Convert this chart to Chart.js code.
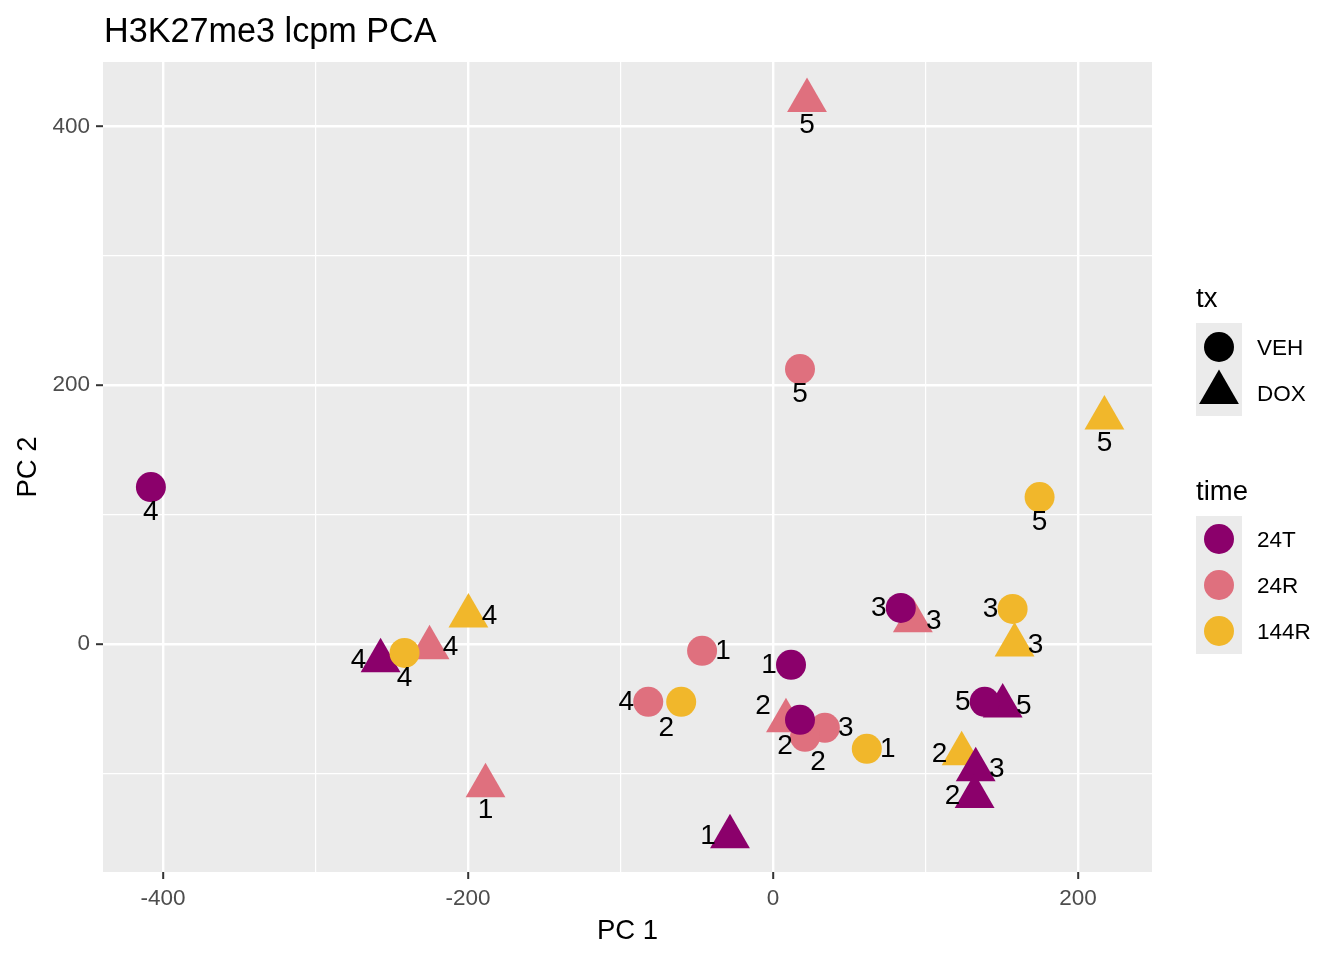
<!DOCTYPE html>
<html>
<head>
<meta charset="utf-8">
<title>H3K27me3 lcpm PCA</title>
<script src="https://cdn.jsdelivr.net/npm/chart.js@4.4.1/dist/chart.umd.min.js"></script>
<style>
  html, body { margin: 0; padding: 0; background: #fff; }
  #wrap { width: 1344px; height: 960px; }
</style>
</head>
<body>
<div id="wrap"><canvas id="pca" width="1344" height="960"></canvas></div>
<script>
// sample coordinates
const pc1 = [-407.9, 22.3, 17.7, 217.3, 174.8, 83.8, 91.7, 157.1, 158.4, -199.7,
             -225.2, -257.3, -241.6, -46.5, 11.8, -81.8, -60.2, 138.8, 150.6, 8.5,
             17.7, 34.0, 21.0, 61.5, 123.7, 132.9, 132.2, -188.5, -28.2];
const pc2 = [121.2, 420.0, 212.4, 174.5, 113.5, 27.8, 17.8, 27.0, -0.8, 21.6,
             -3.0, -13.0, -7.0, -5.4, -16.2, -44.8, -44.8, -44.8, -48.0, -59.5,
             -58.7, -64.9, -71.8, -81.1, -85.0, -97.3, -118.0, -109.6, -149.0];
const time = ['24T', '24R', '24R', '144R', '144R', '24T', '24R', '144R', '144R', '144R',
              '24R', '24T', '144R', '24R', '24T', '24R', '144R', '24T', '24T', '24R',
              '24T', '24R', '24R', '144R', '144R', '24T', '24T', '24R', '24T'];
const tx = ['VEH', 'DOX', 'VEH', 'DOX', 'VEH', 'VEH', 'DOX', 'VEH', 'DOX', 'DOX',
            'DOX', 'DOX', 'VEH', 'VEH', 'VEH', 'VEH', 'VEH', 'VEH', 'DOX', 'DOX',
            'VEH', 'VEH', 'VEH', 'VEH', 'DOX', 'DOX', 'DOX', 'DOX', 'DOX'];
const rep = ['4', '5', '5', '5', '5', '3', '3', '3', '3', '4',
             '4', '4', '4', '1', '1', '4', '2', '5', '5', '2',
             '2', '3', '2', '1', '2', '3', '2', '1', '1'];
// which side of the point the repelled label sits on
const labelSide = ['b', 'b', 'b', 'b', 'b', 'l', 'r', 'l', 'r', 'r',
                   'r', 'l', 'b', 'r', 'l', 'l', 'bl', 'l', 'r', 'ul',
                   'bl', 'r', 'br', 'r', 'l', 'r', 'l', 'b', 'l'];

const timeLevels = ['24T', '24R', '144R'];
const txLevels = ['VEH', 'DOX'];
const xBreaks = [-400, -200, 0, 200];
const xMinor = [-300, -100, 100];
const yBreaks = [0, 200, 400];
const yMinor = [-100, 100, 300];

const FONT = "'Liberation Sans', Arial, sans-serif";
const timeColors = { '24T': '#8B006B', '24R': '#DF707E', '144R': '#F1B72B' };
const txShapes = { VEH: 'circle', DOX: 'triangle' };
const txRadius = { VEH: 15, DOX: 23 };
const sideOffset = {
  b: [0, 25], l: [-22, 0], r: [21, 0], bl: [-15, 26], br: [13, 25], ul: [-23, -15]
};

// triangles go underneath, circles on top
const drawOrder = [['144R', 'DOX'], ['24R', 'DOX'], ['24T', 'DOX'],
                   ['24R', 'VEH'], ['144R', 'VEH'], ['24T', 'VEH']];

const datasets = drawOrder.map(([t, s], i) => {
  const pts = [];
  pc1.forEach((x, k) => {
    if (time[k] === t && tx[k] === s) pts.push({ x: x, y: pc2[k] });
  });
  return {
    label: t + ' ' + s,
    data: pts,
    order: drawOrder.length - i,
    pointStyle: txShapes[s],
    pointRadius: txRadius[s],
    pointBackgroundColor: timeColors[t],
    pointBorderWidth: 0,
    showLine: false
  };
});

const isMajor = (list, v) => list.includes(v);

const decor = {
  id: 'decor',
  beforeDraw(chart) {
    const { ctx, chartArea: a } = chart;
    ctx.save();
    ctx.fillStyle = '#EBEBEB';
    ctx.fillRect(a.left, a.top, a.right - a.left, a.bottom - a.top);
    ctx.restore();
  },
  afterDatasetsDraw(chart) {
    const { ctx, scales } = chart;
    ctx.save();
    ctx.fillStyle = '#000';
    ctx.font = '28px ' + FONT;
    ctx.textAlign = 'center';
    ctx.textBaseline = 'middle';
    pc1.forEach((x, k) => {
      const off = sideOffset[labelSide[k]];
      ctx.fillText(rep[k], scales.x.getPixelForValue(x) + off[0],
                   scales.y.getPixelForValue(pc2[k]) + off[1]);
    });
    ctx.restore();
  },
  afterDraw(chart) {
    const { ctx, chartArea: a } = chart;
    ctx.save();
    ctx.fillStyle = '#000';
    // title
    ctx.font = '34.2px ' + FONT;
    ctx.textAlign = 'left';
    ctx.textBaseline = 'alphabetic';
    ctx.fillText('H3K27me3 lcpm PCA', 104, 42);
    // axis titles
    ctx.font = '27.5px ' + FONT;
    ctx.textAlign = 'center';
    ctx.fillText('PC 1', (a.left + a.right) / 2, 939);
    ctx.save();
    ctx.translate(36, (a.top + a.bottom) / 2);
    ctx.rotate(-Math.PI / 2);
    ctx.fillText('PC 2', 0, 0);
    ctx.restore();

    // legends
    const lx = 1196, kw = 46, kx = lx + kw / 2, tx0 = 1257;
    const drawKey = (shape, r, color, y) => {
      ctx.fillStyle = color;
      Chart.helpers.drawPoint(ctx, { pointStyle: shape, radius: r, borderWidth: 0, rotation: 0 }, kx, y);
    };
    const drawText = (txt, y) => {
      ctx.fillStyle = '#000';
      ctx.font = '22.5px ' + FONT;
      ctx.textAlign = 'left';
      ctx.textBaseline = 'middle';
      ctx.fillText(txt, tx0, y);
    };
    ctx.font = '27.5px ' + FONT;
    ctx.textAlign = 'left';
    ctx.textBaseline = 'alphabetic';
    ctx.fillText('tx', lx, 307);
    ctx.fillStyle = '#EBEBEB';
    ctx.fillRect(lx, 323, kw, 93);
    const txY = [347, 392.5];
    txLevels.forEach((s, i) => {
      drawKey(txShapes[s], txRadius[s], '#000', txY[i]);
      drawText(s, txY[i] + 2);
    });

    ctx.fillStyle = '#000';
    ctx.font = '27.5px ' + FONT;
    ctx.textBaseline = 'alphabetic';
    ctx.fillText('time', lx, 500);
    ctx.fillStyle = '#EBEBEB';
    ctx.fillRect(lx, 516, kw, 138);
    timeLevels.forEach((t, i) => {
      const y = 539 + i * 46;
      drawKey('circle', 15, timeColors[t], y);
      drawText(t, y + 2);
    });
    ctx.restore();
  }
};

new Chart(document.getElementById('pca'), {
  type: 'scatter',
  data: { datasets: datasets },
  options: {
    responsive: false,
    animation: false,
    events: [],
    layout: { padding: { left: 0, top: 62, right: 192, bottom: 0 } },
    plugins: { legend: { display: false }, title: { display: false }, tooltip: { enabled: false } },
    scales: {
      x: {
        type: 'linear',
        min: -439.3,
        max: 248.5,
        afterBuildTicks: s => { s.ticks = xBreaks.concat(xMinor).sort((p, q) => p - q).map(v => ({ value: v })); },
        afterFit: s => { s.height = 88; },
        border: { display: false },
        grid: {
          color: '#FFFFFF',
          lineWidth: c => isMajor(xBreaks, c.tick.value) ? 2.4 : 1.2,
          drawTicks: true,
          tickLength: 7,
          tickWidth: 2,
          tickColor: c => isMajor(xBreaks, c.tick.value) ? '#333333' : 'rgba(0,0,0,0)'
        },
        ticks: {
          autoSkip: false,
          maxRotation: 0,
          padding: 6,
          color: '#4D4D4D',
          font: { family: FONT, size: 22.5 },
          callback: v => isMajor(xBreaks, v) ? String(v) : ''
        }
      },
      y: {
        type: 'linear',
        min: -176.3,
        max: 449.7,
        afterBuildTicks: s => { s.ticks = yBreaks.concat(yMinor).sort((p, q) => p - q).map(v => ({ value: v })); },
        afterFit: s => { s.width = 103; },
        border: { display: false },
        grid: {
          color: '#FFFFFF',
          lineWidth: c => isMajor(yBreaks, c.tick.value) ? 2.4 : 1.2,
          drawTicks: true,
          tickLength: 7,
          tickWidth: 2,
          tickColor: c => isMajor(yBreaks, c.tick.value) ? '#333333' : 'rgba(0,0,0,0)'
        },
        ticks: {
          autoSkip: false,
          padding: 6,
          color: '#4D4D4D',
          font: { family: FONT, size: 22.5 },
          callback: v => isMajor(yBreaks, v) ? String(v) : ''
        }
      }
    }
  },
  plugins: [decor]
});
</script>
</body>
</html>
